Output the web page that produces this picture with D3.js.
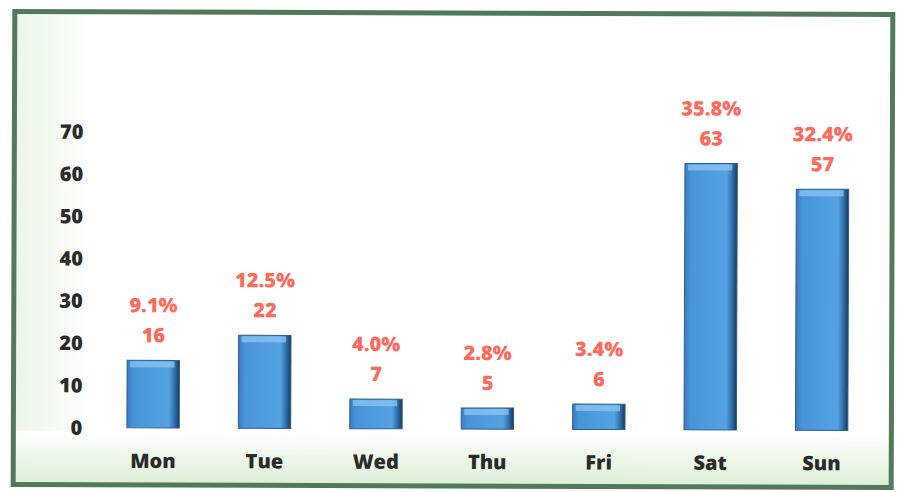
<!DOCTYPE html>
<html lang="en">
<head>
  <meta charset="UTF-8">
  <title>weekday bars</title>
  <script src="https://cdn.jsdelivr.net/npm/d3@7"></script>
  <style>
    body { margin: 0; background: #fff; }
    text { font-family: "Open Sans", "Noto Sans", sans-serif; font-weight: 800; }
  </style>
</head>
<body>
  <svg width="899" height="492"></svg>
  <script>
    var days = ['Mon', 'Tue', 'Wed', 'Thu', 'Fri', 'Sat', 'Sun']
    var counts = [16, 22, 7, 5, 6, 63, 57]
    var percents = ['9.1%', '12.5%', '4.0%', '2.8%', '3.4%', '35.8%', '32.4%']
    var yTicks = [0, 10, 20, 30, 40, 50, 60, 70]

    var svg = d3.select('svg')
    var defs = svg.append('defs')

    // bottom / left pale green wash
    var gb = defs.append('linearGradient').attr('id', 'gbot').attr('x1', 0).attr('y1', 0).attr('x2', 0).attr('y2', 1)
    gb.append('stop').attr('offset', 0).attr('stop-color', '#ffffff')
    gb.append('stop').attr('offset', 0.4).attr('stop-color', '#f0f9ec')
    gb.append('stop').attr('offset', 1).attr('stop-color', '#dcefd6')
    var gl = defs.append('linearGradient').attr('id', 'gleft').attr('x1', 0).attr('y1', 0).attr('x2', 1).attr('y2', 0)
    gl.append('stop').attr('offset', 0).attr('stop-color', '#eaf6e6')
    gl.append('stop').attr('offset', 1).attr('stop-color', '#ffffff')

    // bar shading
    var gbar = defs.append('linearGradient').attr('id', 'gbar').attr('x1', 0).attr('y1', 0).attr('x2', 1).attr('y2', 0)
    gbar.append('stop').attr('offset', 0).attr('stop-color', '#3a7cbd')
    gbar.append('stop').attr('offset', 0.12).attr('stop-color', '#4894d8')
    gbar.append('stop').attr('offset', 0.8).attr('stop-color', '#55a2e2')
    gbar.append('stop').attr('offset', 0.92).attr('stop-color', '#2c68a0')
    gbar.append('stop').attr('offset', 1).attr('stop-color', '#1b3a56')

    var g = svg.append('g').attr('transform', 'rotate(0.2,450,246)')

    g.append('rect').attr('x', 14).attr('y', 13).attr('width', 878).attr('height', 473).attr('fill', '#fff')
    g.append('rect').attr('x', 14).attr('y', 13).attr('width', 80).attr('height', 473).attr('fill', 'url(#gleft)')
    g.append('rect').attr('x', 14).attr('y', 432).attr('width', 878).attr('height', 54).attr('fill', 'url(#gbot)')
    g.append('rect').attr('x', 14).attr('y', 13).attr('width', 878).attr('height', 473)
      .attr('fill', 'none').attr('stroke', '#52795a').attr('stroke-width', 5)

    var y = d3.scaleLinear().domain([0, 70]).range([429, 133])
    var x = d3.scalePoint().domain(days).range([98, 878]).padding(0.5)
    var barW = x.step() * 0.47

    // y axis labels only
    g.append('g').selectAll('text').data(yTicks).enter().append('text')
      .attr('x', 83).attr('y', d => y(d)).attr('dy', '0.35em')
      .attr('text-anchor', 'end').attr('font-size', 20).attr('fill', '#2b2b2b')
      .text(d => d)

    // bars
    var bars = g.append('g').selectAll('g').data(days).enter().append('g')
    bars.append('rect')
      .attr('x', d => x(d) - barW / 2)
      .attr('y', (d, i) => y(counts[i]))
      .attr('width', barW)
      .attr('height', (d, i) => y(0) - y(counts[i]))
      .attr('fill', 'url(#gbar)')
      .attr('stroke', '#2a5f8f').attr('stroke-width', 1)
    // top bevel
    bars.append('rect')
      .attr('x', d => x(d) - barW / 2 + 3)
      .attr('y', (d, i) => y(counts[i]) + 1)
      .attr('width', barW - 8)
      .attr('height', (d, i) => Math.min(6, y(0) - y(counts[i]) - 2))
      .attr('fill', '#8cc6f2').attr('opacity', 0.75)

    // labels
    bars.append('text')
      .attr('x', d => x(d))
      .attr('y', (d, i) => y(counts[i]) - 25)
      .attr('dy', '0.35em').attr('text-anchor', 'middle')
      .attr('font-size', 20).attr('fill', '#ff6a5c')
      .text((d, i) => counts[i])
    bars.append('text')
      .attr('x', d => x(d))
      .attr('y', (d, i) => y(counts[i]) - 55)
      .attr('dy', '0.35em').attr('text-anchor', 'middle')
      .attr('font-size', 20).attr('fill', '#ff6a5c')
      .text((d, i) => percents[i])

    // x axis labels
    g.append('g').selectAll('text').data(days).enter().append('text')
      .attr('x', d => x(d)).attr('y', 462).attr('dy', '0.35em')
      .attr('text-anchor', 'middle').attr('font-size', 20).attr('fill', '#2b2b2b')
      .text(d => d)
  </script>
</body>
</html>
